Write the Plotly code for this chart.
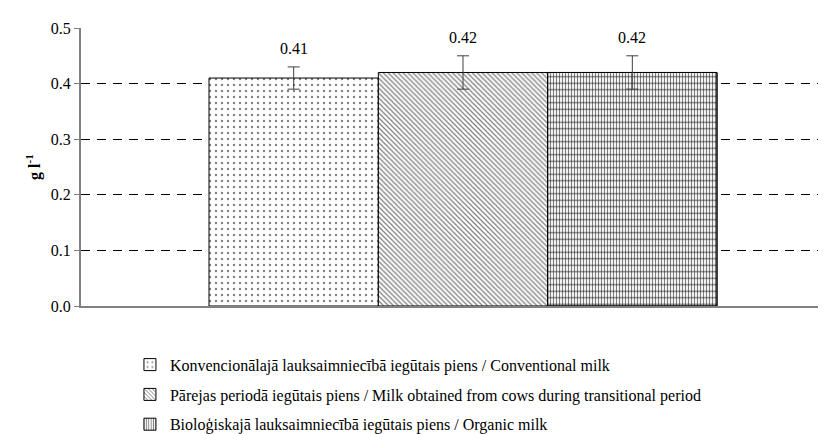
import plotly.graph_objects as go

series_names = [
    "Konvencionālajā lauksaimniecībā iegūtais piens / Conventional milk",
    "Pārejas periodā iegūtais piens / Milk obtained from cows during transitional period",
    "Bioloģiskajā lauksaimniecībā iegūtais piens / Organic milk",
]
values = [0.41, 0.42, 0.42]
errors = [0.02, 0.03, 0.03]
value_labels = ["0.41", "0.42", "0.42"]
y_ticks = [0.0, 0.1, 0.2, 0.3, 0.4, 0.5]

FONT = "Liberation Serif"
FS = 16
positions = [i + 1 for i in range(len(values))]

patterns = [
    dict(shape=".", size=6, solidity=0.12, fgcolor="#000000", bgcolor="#ffffff"),
    dict(shape="\\", size=3.5, solidity=0.35, fgcolor="#000000", bgcolor="#ffffff"),
    dict(shape="|", size=3, solidity=0.4, fgcolor="#000000", bgcolor="#ffffff"),
]

fig = go.Figure()
for i, name in enumerate(series_names):
    fig.add_trace(go.Bar(
        x=[positions[i]], y=[values[i]], width=1, name=name,
        marker=dict(color="#ffffff", pattern=patterns[i],
                    line=dict(color="#000000", width=1)),
        error_y=dict(type="data", array=[errors[i]], visible=(i < 2),
                     color="#404040", thickness=1, width=6),
        legendgroup=f"g{i}", showlegend=True, hoverinfo="skip",
    ))
# horizontal lines of the grid pattern on the third bar
fig.add_trace(go.Bar(
    x=[positions[2]], y=[values[2]], width=1, name=series_names[2],
    marker=dict(color="rgba(0,0,0,0)",
                pattern=dict(shape="-", size=6.5, solidity=0.2, fgcolor="#000000",
                             bgcolor="rgba(0,0,0,0)", fillmode="overlay"),
                line=dict(color="#000000", width=1)),
    error_y=dict(type="data", array=[errors[2]], color="#404040", thickness=1, width=6),
    legendgroup="g2", showlegend=False, hoverinfo="skip",
))

for i, lab in enumerate(value_labels):
    fig.add_annotation(x=positions[i], y=values[i] + errors[i], text=lab,
                       showarrow=False, yanchor="bottom", yshift=8,
                       font=dict(family=FONT, size=FS, color="#000000"))

fig.update_layout(
    width=826, height=434,
    margin=dict(l=73, r=0, t=20, b=123),
    paper_bgcolor="#ffffff", plot_bgcolor="#ffffff",
    barmode="overlay",
    font=dict(family=FONT, size=FS, color="#000000"),
    showlegend=True,
    legend=dict(x=0.065, xanchor="left", y=-0.15, yanchor="top",
                traceorder="grouped", tracegroupgap=6,
                font=dict(family=FONT, size=FS, color="#000000"),
                itemwidth=30, bgcolor="rgba(0,0,0,0)"),
)
fig.update_xaxes(range=[-0.256, 4.191], showgrid=False, zeroline=False,
                 showticklabels=False, ticks="", showline=True,
                 linecolor="#808080", linewidth=2)
fig.update_yaxes(range=[0, 0.5], tickvals=y_ticks, tickformat=".1f",
                 showgrid=True, gridcolor="#000000", gridwidth=1, griddash="9px,7px",
                 zeroline=False, showline=True, linecolor="#808080", linewidth=2,
                 ticks="outside", ticklen=5, tickcolor="#808080",
                 tickfont=dict(family=FONT, size=FS, color="#000000"),
                 title=dict(text="<b>g l<sup>-1</sup></b>", standoff=6,
                            font=dict(family=FONT, size=FS, color="#000000")))

fig.write_html("out.html")
